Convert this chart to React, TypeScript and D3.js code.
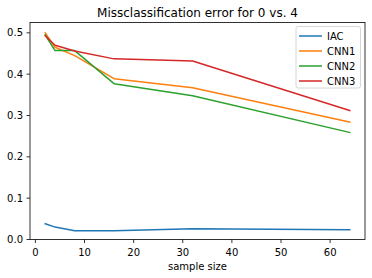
import React from 'react';
import * as d3 from 'd3';

const sampleSizes = [2, 4, 8, 16, 32, 64];
const iac = [0.038, 0.03, 0.021, 0.021, 0.026, 0.0235];
const cnn1 = [0.5, 0.465, 0.445, 0.389, 0.367, 0.284];
const cnn2 = [0.495, 0.457, 0.457, 0.377, 0.348, 0.259];
const cnn3 = [0.493, 0.47, 0.456, 0.437, 0.432, 0.312];
const seriesNames = ['IAC', 'CNN1', 'CNN2', 'CNN3'];
const colors = ['#1f77b4', '#ff7f0e', '#2ca02c', '#d62728'];
const xTicks = [0, 10, 20, 30, 40, 50, 60];
const yTicks = [0.0, 0.1, 0.2, 0.3, 0.4, 0.5];

const W = 372;
const H = 278;
const margin = { left: 30, right: 7, top: 22.5, bottom: 38.5 };
const font = 'DejaVu Sans, sans-serif';

const App = () => {
  const x = d3.scaleLinear().domain([-1.1, 67.1]).range([margin.left, W - margin.right]);
  const y = d3.scaleLinear().domain([0, 0.525]).range([H - margin.bottom, margin.top]);
  const line = d3.line<number>().x((_, i) => x(sampleSizes[i])).y((d) => y(d));
  const allSeries = [iac, cnn1, cnn2, cnn3];
  const fmt = d3.format('.1f');
  const x0 = margin.left;
  const x1 = W - margin.right;
  const y0 = H - margin.bottom;
  const y1 = margin.top;

  // legend placement
  const lgX = 296, lgY = 26.5, lgW = 64.5, lgH = 61.5;

  return (
    <svg width={W} height={H} style={{ position: 'absolute', left: 0, top: 0, background: '#fff' }} fontFamily={font}>
      <g>
        {allSeries.map((s, i) => (
          <path key={i} d={line(s) || ''} fill="none" stroke={colors[i]} strokeWidth={1.5} strokeLinejoin="round" strokeLinecap="square" />
        ))}
      </g>
      <rect x={x0} y={y1} width={x1 - x0} height={y0 - y1} fill="none" stroke="#000" strokeWidth={0.8} />
      {xTicks.map((t) => (
        <g key={t} transform={`translate(${x(t)},${y0})`}>
          <line y2={3.5} stroke="#000" strokeWidth={0.8} />
          <text y={16} textAnchor="middle" fontSize={10} fill="#000">{t}</text>
        </g>
      ))}
      {yTicks.map((t) => (
        <g key={t} transform={`translate(${x0},${y(t)})`}>
          <line x2={-3.5} stroke="#000" strokeWidth={0.8} />
          <text x={-7} dy="0.35em" textAnchor="end" fontSize={10} fill="#000">{fmt(t)}</text>
        </g>
      ))}
      <text x={(x0 + x1) / 2} y={17} textAnchor="middle" fontSize={12} fill="#000">Missclassification error for 0 vs. 4</text>
      <text x={(x0 + x1) / 2} y={269.5} textAnchor="middle" fontSize={10} fill="#000">sample size</text>
      <g>
        <rect x={lgX} y={lgY} width={lgW} height={lgH} rx={2} fill="#fff" fillOpacity={0.8} stroke="#cccccc" strokeWidth={0.8} />
        {seriesNames.map((n, i) => (
          <g key={n} transform={`translate(${lgX},${lgY + 9.5 + i * 15})`}>
            <line x1={3} x2={26} stroke={colors[i]} strokeWidth={1.5} />
            <text x={31} dy="0.35em" fontSize={10} fill="#000">{n}</text>
          </g>
        ))}
      </g>
    </svg>
  );
};

export default App;
